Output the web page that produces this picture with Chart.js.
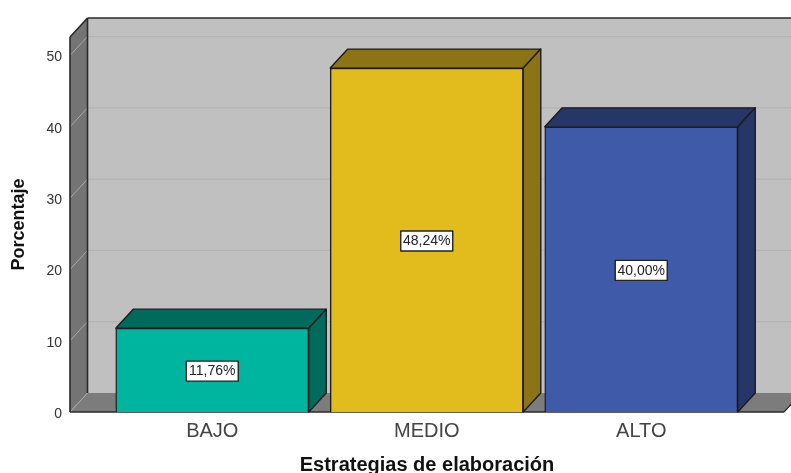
<!DOCTYPE html>
<html>
<head>
<meta charset="utf-8">
<style>html,body{margin:0;padding:0;background:#fff;overflow:hidden}canvas{display:block}</style>
<script src="https://cdn.jsdelivr.net/npm/chart.js@4"></script>
</head>
<body>
<canvas id="c" width="791" height="473"></canvas>
<script>
const categories = ['BAJO', 'MEDIO', 'ALTO'];
const percentages = [11.76, 48.24, 40.00];
const yTicks = [0, 10, 20, 30, 40, 50];
const xTitle = 'Estrategias de elaboración';
const yTitle = 'Porcentaje';
const frontColors = ['#00B5A0', '#E2BC1C', '#3F5AA8'];
const shadeColors = ['#006B5C', '#8B7316', '#263669'];

const DEPTH_X = 17.5, DEPTH_Y = 19;
const EDGE = '#1c1c1c';

function poly(ctx, pts, fill, stroke, lw) {
  ctx.beginPath();
  pts.forEach((p, i) => i ? ctx.lineTo(p[0], p[1]) : ctx.moveTo(p[0], p[1]));
  ctx.closePath();
  if (fill) { ctx.fillStyle = fill; ctx.fill(); }
  if (stroke) { ctx.strokeStyle = stroke; ctx.lineWidth = lw || 1.5; ctx.lineJoin = 'round'; ctx.stroke(); }
}
function line(ctx, x1, y1, x2, y2, color, lw) {
  ctx.beginPath(); ctx.moveTo(x1, y1); ctx.lineTo(x2, y2);
  ctx.strokeStyle = color; ctx.lineWidth = lw; ctx.stroke();
}

const walls3d = {
  id: 'walls3d',
  beforeDatasetsDraw(chart) {
    const ctx = chart.ctx, a = chart.chartArea, y = chart.scales.y;
    const L = a.left, R = a.right, T = a.top, B = a.bottom;
    ctx.save();
    poly(ctx, [[L + DEPTH_X, T - DEPTH_Y], [R + DEPTH_X, T - DEPTH_Y], [R + DEPTH_X, B - DEPTH_Y], [L + DEPTH_X, B - DEPTH_Y]], '#C0C0C0');
    poly(ctx, [[L, T], [L + DEPTH_X, T - DEPTH_Y], [L + DEPTH_X, B - DEPTH_Y], [L, B]], '#747474');
    poly(ctx, [[L, B], [L + DEPTH_X, B - DEPTH_Y], [R + DEPTH_X, B - DEPTH_Y], [R, B]], '#7C7C7C');
    yTicks.forEach(v => {
      const py = y.getPixelForValue(v);
      line(ctx, L, py, L + DEPTH_X, py - DEPTH_Y, '#A8A8A8', 1);
      if (v > 0) line(ctx, L + DEPTH_X, py - DEPTH_Y, R + DEPTH_X, py - DEPTH_Y, '#B4B4B4', 1.2);
    });
    line(ctx, L + DEPTH_X, T - DEPTH_Y, R + DEPTH_X, T - DEPTH_Y, '#2a2a2a', 1.6);
    line(ctx, L + DEPTH_X, T - DEPTH_Y, L + DEPTH_X, B - DEPTH_Y, '#2a2a2a', 1.6);
    line(ctx, L, T, L + DEPTH_X, T - DEPTH_Y, '#2a2a2a', 1.6);
    line(ctx, L, T, L, B, '#2a2a2a', 1.6);
    line(ctx, L, B, R, B, '#2a2a2a', 1.6);
    line(ctx, R, B, R + DEPTH_X, B - DEPTH_Y, '#2a2a2a', 1.2);
    ctx.restore();
  },
  afterDatasetsDraw(chart) {
    const ctx = chart.ctx;
    const meta = chart.getDatasetMeta(0);
    ctx.save();
    meta.data.forEach((bar, i) => {
      const p = bar.getProps(['x', 'y', 'base', 'width'], true);
      const l = p.x - p.width / 2, r = p.x + p.width / 2, t = p.y, b = p.base;
      poly(ctx, [[l, t], [l + DEPTH_X, t - DEPTH_Y], [r + DEPTH_X, t - DEPTH_Y], [r, t]], shadeColors[i], EDGE, 1.4);
      poly(ctx, [[r, t], [r + DEPTH_X, t - DEPTH_Y], [r + DEPTH_X, b - DEPTH_Y], [r, b]], shadeColors[i], EDGE, 1.4);
      const txt = percentages[i].toFixed(2).replace('.', ',') + '%';
      ctx.font = '14px "Liberation Sans"';
      const cy = (t + b) / 2 + 1, bw = 52, bh = 20;
      ctx.fillStyle = '#fff';
      ctx.fillRect(p.x - bw / 2, cy - bh / 2, bw, bh);
      ctx.strokeStyle = '#222'; ctx.lineWidth = 1.4;
      ctx.strokeRect(p.x - bw / 2, cy - bh / 2, bw, bh);
      ctx.fillStyle = '#222'; ctx.textAlign = 'center'; ctx.textBaseline = 'middle';
      ctx.fillText(txt, p.x, cy + 0.5);
    });
    ctx.restore();
  }
};

new Chart(document.getElementById('c'), {
  type: 'bar',
  data: {
    datasets: [{
      data: categories.map((c, i) => ({ x: i, y: percentages[i] })),
      backgroundColor: frontColors,
      borderColor: EDGE,
      borderWidth: 1.4,
      barThickness: 193
    }]
  },
  options: {
    responsive: false,
    animation: false,
    devicePixelRatio: 1,
    layout: { padding: { top: 37, right: 7, left: 0, bottom: 0 } },
    plugins: { legend: { display: false }, tooltip: { enabled: false } },
    scales: {
      x: {
        type: 'linear',
        offset: false,
        min: -0.6632,
        max: 2.6655,
        grid: { display: false, drawTicks: false },
        border: { display: false },
        afterBuildTicks(s) { s.ticks = categories.map((c, i) => ({ value: i })); },
        afterFit(s) { s.height = 61; },
        ticks: {
          autoSkip: false, maxRotation: 0, padding: 7,
          color: '#444', font: { family: '"Liberation Sans"', size: 20 },
          callback: v => categories[v]
        },
        title: {
          display: true, text: xTitle, color: '#111',
          font: { family: '"Liberation Sans"', size: 20, weight: 'bold' },
          padding: { top: 0, bottom: -4 }
        }
      },
      y: {
        min: 0,
        max: 52.6,
        grid: { display: false, drawTicks: false },
        border: { display: false },
        afterBuildTicks(s) { s.ticks = yTicks.map(v => ({ value: v })); },
        afterFit(s) { s.width = 70; },
        ticks: {
          padding: 8, color: '#333', labelOffset: 2,
          font: { family: '"Liberation Sans"', size: 14 }
        },
        title: {
          display: true, text: yTitle, color: '#111',
          font: { family: '"Liberation Sans"', size: 18, weight: 'bold' },
          padding: { top: 8, bottom: 0 }
        }
      }
    }
  },
  plugins: [walls3d]
});
</script>
</body>
</html>
